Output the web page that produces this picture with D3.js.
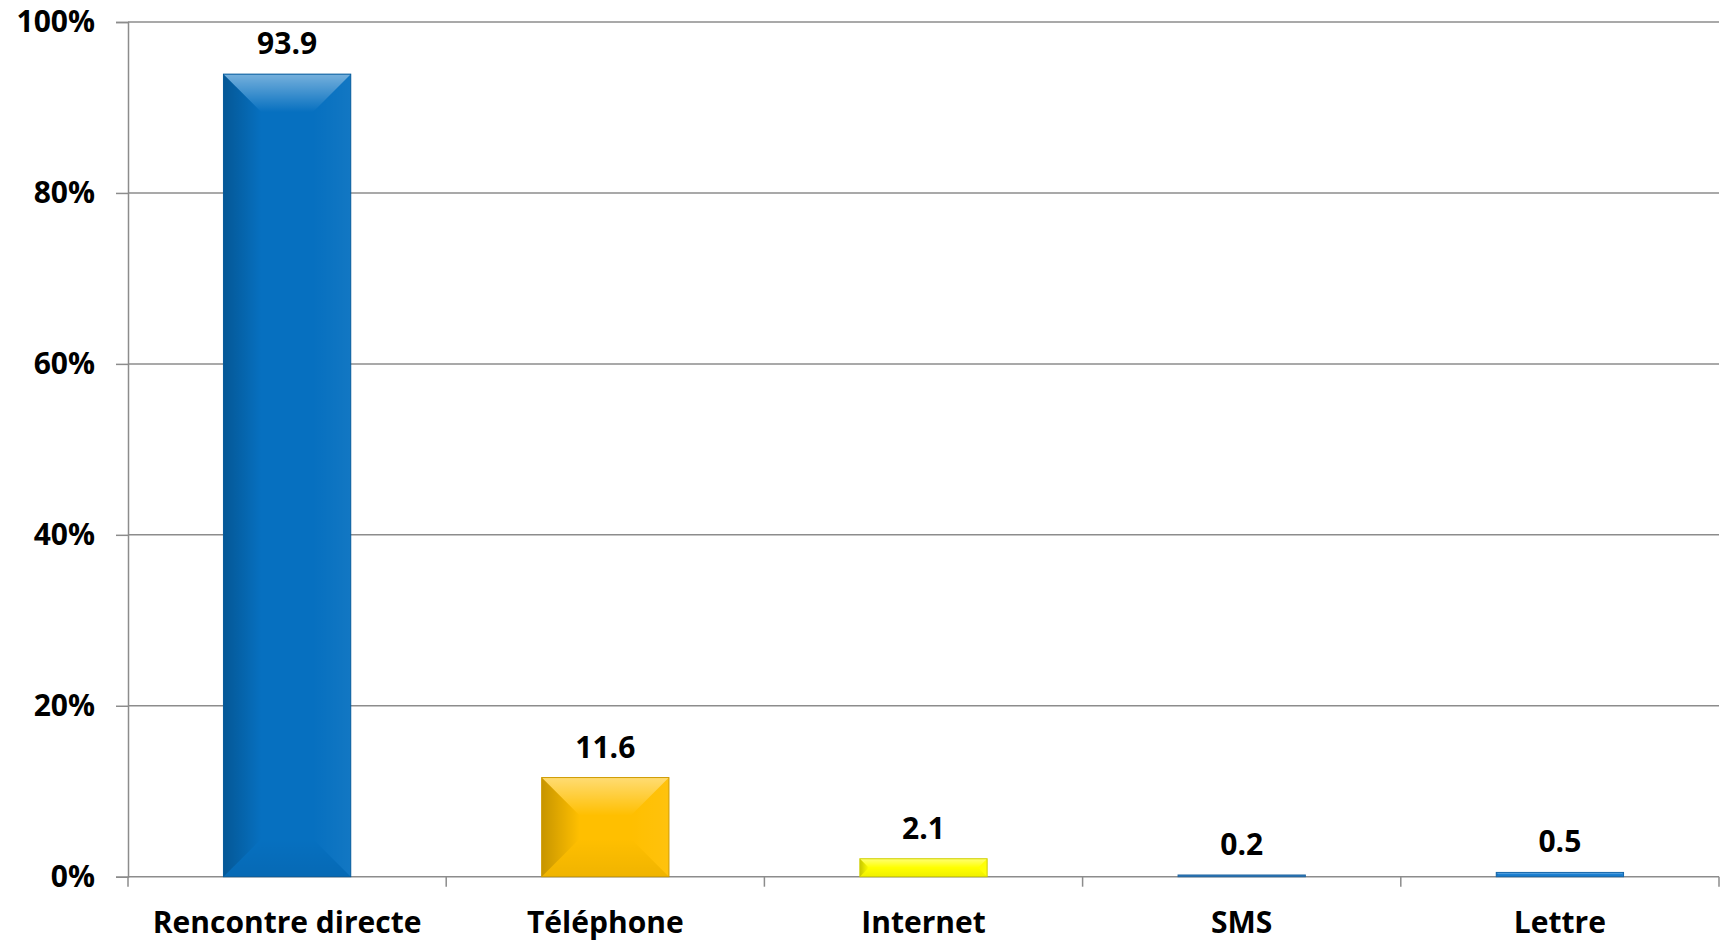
<!DOCTYPE html>
<html lang="fr">
<head>
  <meta charset="UTF-8">
  <title>Mode de contact</title>
  <style>
    body {
      margin: 0;
      background: #fff;
      overflow: hidden;
    }
    text {
      font-family: "Open Sans", "Noto Sans", sans-serif;
      font-weight: bold;
      fill: #000;
    }
  </style>
</head>
<body>
  <script src="https://d3js.org/d3.v7.min.js"></script>
  <script>
    // données
    const categories = ['Rencontre directe', 'Téléphone', 'Internet', 'SMS', 'Lettre'];
    const values = [93.9, 11.6, 2.1, 0.2, 0.5];
    const colors = ['#0670c0', '#ffbf00', '#ffff00', '#2a7cc4', '#1a7fd2'];
    const yTicks = [0, 20, 40, 60, 80, 100];

    const width = 1725;
    const height = 941;
    const plotLeft = 128, plotRight = 1719, plotTop = 22, plotBottom = 876.7;
    const fontSize = 30;

    const svg = d3.select('body').append('svg')
      .attr('width', width)
      .attr('height', height);

    const defs = svg.append('defs');
    function grad(id, x1, y1, x2, y2, color, op) {
      const g = defs.append('linearGradient').attr('id', id)
        .attr('x1', x1).attr('y1', y1).attr('x2', x2).attr('y2', y2);
      g.append('stop').attr('offset', 0).attr('stop-color', color).attr('stop-opacity', op);
      g.append('stop').attr('offset', 1).attr('stop-color', color).attr('stop-opacity', 0);
    }
    grad('bevTop', 0, 0, 0, 1, '#ffffff', 0.45);
    grad('bevLeft', 0, 0, 1, 0, '#000000', 0.22);
    grad('bevRight', 1, 0, 0, 0, '#ffffff', 0.05);
    grad('bevBottom', 0, 1, 0, 0, '#000000', 0.06);

    const x = d3.scaleBand()
      .domain(categories)
      .range([plotLeft, plotRight])
      .paddingInner(0.6)
      .paddingOuter(0.3);

    const y = d3.scaleLinear()
      .domain([0, 100])
      .range([plotBottom, plotTop]);

    // grille
    svg.append('g')
      .selectAll('line')
      .data(yTicks)
      .join('line')
      .attr('x1', plotLeft)
      .attr('x2', plotRight)
      .attr('y1', d => y(d))
      .attr('y2', d => y(d))
      .attr('stroke', '#8c8c8c')
      .attr('stroke-width', 1.5);

    // axe Y
    const yAxis = svg.append('g')
      .attr('transform', `translate(${plotLeft},0)`)
      .call(d3.axisLeft(y).tickValues(yTicks).tickFormat(d => d + '%').tickSize(12).tickPadding(21));
    yAxis.select('.domain').attr('stroke', '#8c8c8c').attr('stroke-width', 1.5);
    yAxis.selectAll('.tick line').attr('stroke', '#8c8c8c').attr('stroke-width', 1.5);
    yAxis.selectAll('text').attr('font-size', fontSize).attr('fill', '#000');

    // axe X
    const xAxis = svg.append('g')
      .attr('transform', `translate(0,${plotBottom})`)
      .call(d3.axisBottom(x).tickSize(0).tickPadding(35));
    xAxis.select('.domain').remove();
    xAxis.selectAll('text').attr('font-size', fontSize).attr('fill', '#000');

    const step = x.step();
    const bounds = d3.range(categories.length + 1).map(i => plotLeft + i * step);
    svg.append('g')
      .selectAll('line')
      .data(bounds)
      .join('line')
      .attr('x1', d => d)
      .attr('x2', d => d)
      .attr('y1', plotBottom)
      .attr('y2', plotBottom + 10)
      .attr('stroke', '#8c8c8c')
      .attr('stroke-width', 1.5);

    // barres
    const data = categories.map((c, i) => ({ c, v: values[i], col: colors[i] }));
    const bars = svg.append('g')
      .selectAll('g')
      .data(data)
      .join('g');

    bars.each(function(d) {
      const g = d3.select(this);
      const x0 = x(d.c), w = x.bandwidth();
      const y0 = y(d.v), h = plotBottom - y0;
      const x1 = x0 + w, y1 = plotBottom;
      const b = Math.min(38, h / 2, w / 2);
      g.append('rect')
        .attr('x', x0).attr('y', y0).attr('width', w).attr('height', h)
        .attr('fill', d.col);
      if (h > 3) {
        g.append('polygon')
          .attr('points', [[x0, y0], [x1, y0], [x1 - b, y0 + b], [x0 + b, y0 + b]].join(' '))
          .attr('fill', 'url(#bevTop)');
        g.append('polygon')
          .attr('points', [[x0, y0], [x0 + b, y0 + b], [x0 + b, y1 - b], [x0, y1]].join(' '))
          .attr('fill', 'url(#bevLeft)');
        g.append('polygon')
          .attr('points', [[x1, y0], [x1, y1], [x1 - b, y1 - b], [x1 - b, y0 + b]].join(' '))
          .attr('fill', 'url(#bevRight)');
        g.append('polygon')
          .attr('points', [[x0, y1], [x0 + b, y1 - b], [x1 - b, y1 - b], [x1, y1]].join(' '))
          .attr('fill', 'url(#bevBottom)');
      }
      g.append('rect')
        .attr('x', x0).attr('y', y0).attr('width', w).attr('height', h)
        .attr('fill', 'none')
        .attr('stroke', d3.color(d.col).darker(0.6))
        .attr('stroke-width', 1);
    });

    // étiquettes
    svg.append('g')
      .selectAll('text')
      .data(data)
      .join('text')
      .attr('x', d => x(d.c) + x.bandwidth() / 2)
      .attr('y', d => y(d.v) - 20)
      .attr('text-anchor', 'middle')
      .attr('font-size', fontSize)
      .text(d => d.v.toFixed(1));
  </script>
</body>
</html>
